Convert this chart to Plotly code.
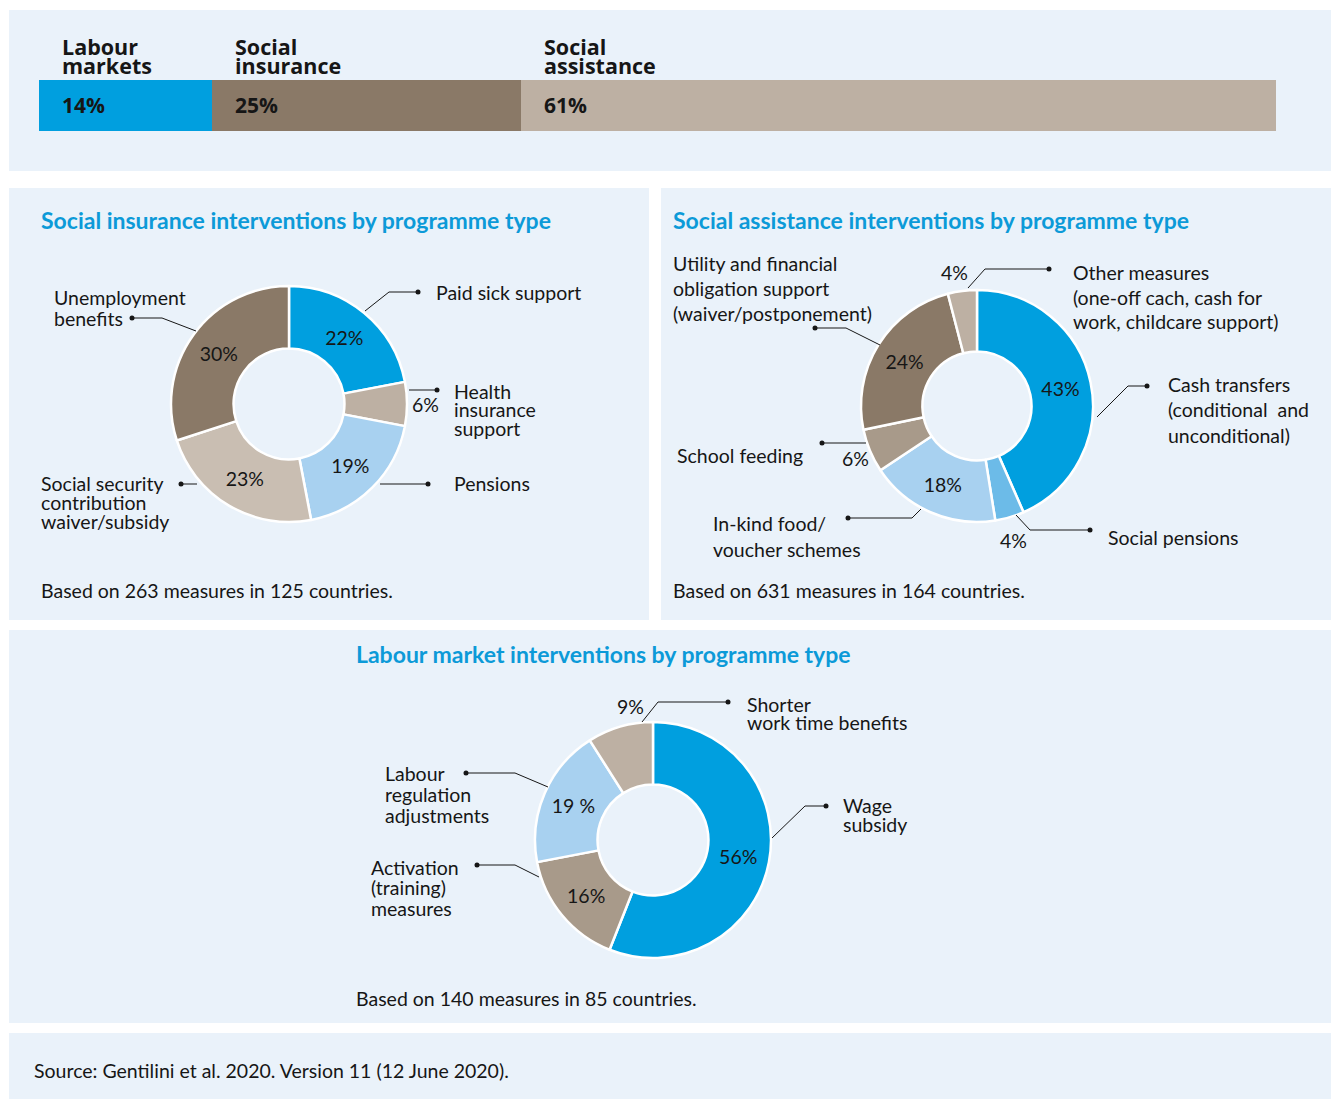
import plotly.graph_objects as go

W, H = 1331, 1099

# ---------------- data ----------------
share_categories = ["Labour markets", "Social insurance", "Social assistance"]
share_label_lines = [["Labour", "markets"], ["Social", "insurance"], ["Social", "assistance"]]
share_values = [14, 25, 61]

si_labels = ["Paid sick support", "Health insurance support", "Pensions",
             "Social security contribution waiver/subsidy", "Unemployment benefits"]
si_values = [22, 6, 19, 23, 30]

sa_labels = ["Cash transfers (conditional and unconditional)", "Social pensions",
             "In-kind food/voucher schemes", "School feeding",
             "Utility and financial obligation support (waiver/postponement)",
             "Other measures (one-off cach, cash for work, childcare support)"]
sa_values = [43, 4, 18, 6, 24, 4]

lm_labels = ["Wage subsidy", "Activation (training) measures",
             "Labour regulation adjustments", "Shorter work time benefits"]
lm_values = [56, 16, 19, 9]
lm_pct_text = ["56%", "16%", "19 %", "9%"]

# ---------------- styles ----------------
BLUE = "#009FDF"
BROWN = "#8A7967"
TAUPE = "#BDB0A3"
TAUPE_LIGHT = "#C9BEB2"
TAUPE_MID = "#A89A8A"
LIGHT_BLUE = "#A8D1F0"
MID_BLUE = "#6CBBE8"
PANEL = "#EAF2FA"
TITLE_BLUE = "#0C9AD8"
TXT = "#161616"
FONT = "Lato"
HEAD_FONT = "Open Sans"
BODY = 19.5

share_colors = [BLUE, BROWN, TAUPE]
si_colors = [BLUE, TAUPE, LIGHT_BLUE, TAUPE_LIGHT, BROWN]
sa_colors = [BLUE, MID_BLUE, LIGHT_BLUE, TAUPE_MID, BROWN, TAUPE]
lm_colors = [BLUE, TAUPE_MID, LIGHT_BLUE, TAUPE]


def X(px):
    return px / W


def Y(py):
    return 1 - py / H


fig = go.Figure()

# ---------------- top stacked bar ----------------
for cat, v, c in zip(share_categories, share_values, share_colors):
    fig.add_trace(go.Bar(x=[v], y=[0], orientation="h", name=cat,
                         marker=dict(color=c, line=dict(width=0)),
                         width=1, hoverinfo="name+x", showlegend=False))

fig.update_layout(
    barmode="stack", bargap=0,
    xaxis=dict(domain=[X(39), X(1276)], range=[0, sum(share_values)], visible=False,
               fixedrange=True),
    yaxis=dict(domain=[Y(131), Y(80)], range=[-0.5, 0.5], visible=False, fixedrange=True),
)

annotations = []
shapes = []

# panels
for (x0, y0, x1, y1) in [(9, 10, 1331, 171), (9, 188, 649, 620), (661, 188, 1331, 620),
                         (9, 630, 1331, 1023), (9, 1033, 1331, 1099)]:
    shapes.append(dict(type="rect", xref="paper", yref="paper", x0=X(x0), x1=X(x1),
                       y0=Y(y1), y1=Y(y0), fillcolor=PANEL, line=dict(width=0),
                       layer="below"))

cum = 0
for lines, v in zip(share_label_lines, share_values):
    for i, ln in enumerate(lines):
        annotations.append(dict(x=cum, xref="x", y=Y(46 + i * 19), yref="paper",
                                text=ln, showarrow=False, xanchor="left", yanchor="middle",
                                xshift=21, font=dict(family=HEAD_FONT, size=21.5, color=TXT,
                                                     weight="bold")))
    annotations.append(dict(x=cum, xref="x", y=Y(105), yref="paper", text=f"{v}%",
                            showarrow=False, xanchor="left", yanchor="middle", xshift=21,
                            font=dict(family=HEAD_FONT, size=21, color=TXT,
                                      weight="bold")))
    cum += v


# ---------------- donuts ----------------
def pie(labels, values, colors, cx, cy, r, positions, text=None):
    texts = text if text is not None else [f"{v}%" for v in values]
    texts = [t if p == "inside" else "" for t, p in zip(texts, positions)]
    return go.Pie(
        labels=labels, values=values, sort=False, direction="clockwise", rotation=0,
        hole=0.47, domain=dict(x=[X(cx - r), X(cx + r)], y=[Y(cy + r), Y(cy - r)]),
        marker=dict(colors=colors, line=dict(color="white", width=2.5)),
        text=texts, textinfo="text",
        textposition=[p if p == "inside" else "none" for p in positions],
        insidetextorientation="horizontal",
        textfont=dict(family=FONT, size=BODY, color=TXT),
        showlegend=False, hoverinfo="label+value",
    )


fig.add_trace(pie(si_labels, si_values, si_colors, 289, 404, 118,
                  ["inside", "outside", "inside", "inside", "inside"]))
fig.add_trace(pie(sa_labels, sa_values, sa_colors, 977, 406, 116,
                  ["inside", "outside", "inside", "outside", "inside", "outside"]))
fig.add_trace(pie(lm_labels, lm_values, lm_colors, 653, 840, 118,
                  ["inside", "inside", "inside", "outside"], text=lm_pct_text))


# ---------------- text helpers ----------------
def txt(x, y, lines, spacing=19, size=BODY, color=TXT, bold=False, anchor="left",
        family=FONT):
    if isinstance(lines, str):
        lines = [lines]
    for i, ln in enumerate(lines):
        annotations.append(dict(x=X(x), y=Y(y + i * spacing), xref="paper", yref="paper",
                                text=ln, showarrow=False, xanchor=anchor,
                                yanchor="middle",
                                font=dict(family=family, size=size, color=color,
                                          weight="bold" if bold else "normal")))


def leader(points):
    path = "M " + " L ".join(f"{X(px)},{Y(py)}" for px, py in points)
    shapes.append(dict(type="path", xref="paper", yref="paper", path=path,
                       line=dict(color=TXT, width=1)))
    dx, dy = points[-1]
    rr = 2.5
    shapes.append(dict(type="circle", xref="paper", yref="paper",
                       x0=X(dx - rr), x1=X(dx + rr), y0=Y(dy + rr), y1=Y(dy - rr),
                       fillcolor=TXT, line=dict(width=0)))


# titles
TS = 23
txt(39, 220, "Social insurance interventions by programme type", size=TS,
    color=TITLE_BLUE, bold=True)
txt(671, 220, "Social assistance interventions by programme type", size=TS,
    color=TITLE_BLUE, bold=True)
txt(354, 654, "Labour market interventions by programme type", size=TS,
    color=TITLE_BLUE, bold=True)

# outside percentage labels (small slices)
txt(425, 404, f"{si_values[1]}%", anchor="center")
txt(955, 272, f"{sa_values[5]}%", anchor="center")
txt(855, 458, f"{sa_values[3]}%", anchor="center")
txt(1013, 540, f"{sa_values[1]}%", anchor="center")
txt(630, 706, lm_pct_text[3], anchor="center")

# social insurance labels
txt(434, 292, "Paid sick support")
leader([(365, 311), (389, 292), (418, 292)])
txt(452, 391, ["Health", "insurance", "support"], spacing=18.5)
leader([(409, 390), (437, 390)])
txt(452, 484, "Pensions")
leader([(380, 484), (428, 484)])
txt(39, 484, ["Social security", "contribution", "waiver/subsidy"], spacing=18.5)
leader([(197, 484), (181, 484)])
txt(52, 298, ["Unemployment", "benefits"], spacing=20)
leader([(196, 331), (162, 318), (132, 318)])
txt(39, 590, "Based on 263 measures in 125 countries.")

# social assistance labels
txt(671, 263, ["Utility and financial", "obligation support", "(waiver/postponement)"],
    spacing=25)
leader([(880, 345), (846, 328), (815, 328)])
txt(1071, 272, ["Other measures", "(one-off cach, cash for", "work, childcare support)"],
    spacing=25)
leader([(968, 288), (985, 269), (1049, 269)])
txt(1166, 385, ["Cash transfers", "(conditional  and", "unconditional)"], spacing=25)
leader([(1097, 417), (1128, 386), (1147, 386)])
txt(675, 456, "School feeding")
leader([(866, 443), (822, 443)])
txt(711, 523, ["In-kind food/", "voucher schemes"], spacing=26)
leader([(921, 509), (912, 518), (848, 518)])
txt(1106, 537, "Social pensions")
leader([(1016, 515), (1030, 530), (1090, 530)])
txt(671, 590, "Based on 631 measures in 164 countries.")

# labour market labels
txt(745, 704, ["Shorter", "work time benefits"], spacing=18.5)
leader([(642, 722), (658, 702), (728, 702)])
txt(841, 805, ["Wage", "subsidy"], spacing=19)
leader([(772, 838), (805, 806), (826, 806)])
txt(383, 773, ["Labour", "regulation", "adjustments"], spacing=21)
leader([(548, 787), (515, 773), (466, 773)])
txt(369, 867, ["Activation", "(training)", "measures"], spacing=20.5)
leader([(539, 877), (515, 865), (477, 865)])
txt(354, 998, "Based on 140 measures in 85 countries.")

# source
txt(32, 1070, "Source: Gentilini et al. 2020. Version 11 (12 June 2020).")

fig.update_layout(
    width=W, height=H, margin=dict(l=0, r=0, t=0, b=0),
    paper_bgcolor="white", plot_bgcolor="rgba(0,0,0,0)",
    font=dict(family=FONT, color=TXT),
    annotations=annotations, shapes=shapes,
)

fig.write_html(
    "out.html",
    config={"displayModeBar": False},
    post_script="document.body.style.margin='0';document.body.style.overflow='hidden';",
)
